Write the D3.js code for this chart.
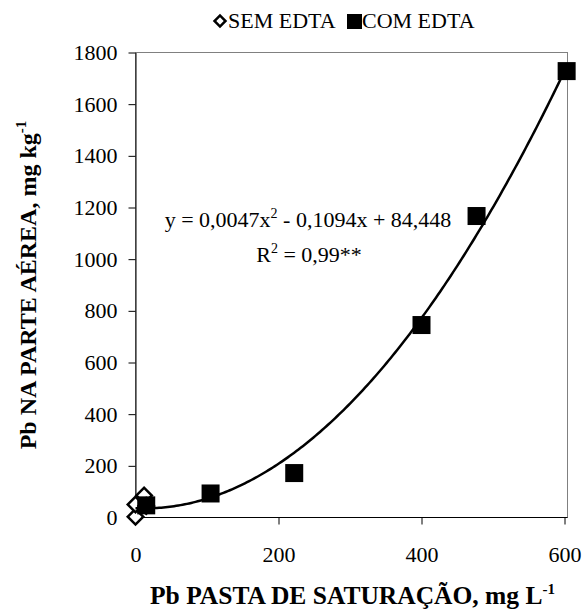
<!DOCTYPE html>
<html>
<head>
<meta charset="utf-8">
<script src="https://cdn.jsdelivr.net/npm/d3@7"></script>
<style>
  body { margin: 0; background: #fff; }
  svg text { font-family: "Liberation Serif", "Times New Roman", serif; fill: #000; }
</style>
</head>
<body>
<div id="chart"></div>
<script>
// values
var semEdtaX = [0, 0, 12, 15],
    semEdtaY = [3, 50, 85, 45];
var comEdtaX = [15, 105, 222, 400, 477, 603],
    comEdtaY = [47, 93, 172, 745, 1167, 1728];
// drawn trendline (quadratic)
var trendCoef = [0.0049, -0.12, 36];
var xTicks = [0, 200, 400, 600],
    yTicks = [0, 200, 400, 600, 800, 1000, 1200, 1400, 1600, 1800];

var serif = "'Liberation Serif', 'Times New Roman', serif";

var W = 583, H = 613,
    margin = {top: 52.5, right: 15.5, bottom: 95.5, left: 135.5},
    width = W - margin.left - margin.right,
    height = H - margin.top - margin.bottom;

var svg = d3.select("#chart").append("svg")
    .attr("width", W)
    .attr("height", H)
    .style("font-family", serif);

var g = svg.append("g")
    .attr("transform", "translate(" + margin.left + "," + margin.top + ")");

var x = d3.scaleLinear().domain([0, 600]).range([0, width - 3]);
var y = d3.scaleLinear().domain([0, 1800]).range([height, 0]);

// plot area border
g.append("rect")
    .attr("width", width).attr("height", height)
    .attr("fill", "none")
    .attr("stroke", "#808080")
    .attr("stroke-width", 1);

var xAxis = d3.axisBottom(x).tickValues(xTicks).tickFormat(d3.format("d"))
    .tickSizeInner(7).tickSizeOuter(0).tickPadding(22);
var yAxis = d3.axisLeft(y).tickValues(yTicks).tickFormat(d3.format("d"))
    .tickSizeInner(7).tickSizeOuter(0).tickPadding(11);

var gx = g.append("g").attr("transform", "translate(0," + height + ")").call(xAxis);
var gy = g.append("g").call(yAxis);
gx.select(".domain").attr("d", "M0,0H" + width);
[gx, gy].forEach(function(a) {
  a.attr("font-family", serif).attr("font-size", 22);
  a.selectAll("path, line").attr("stroke", "#000");
  a.selectAll("text")
      .style("font-family", serif)
      .style("font-size", "22px");
});

// trendline
var curve = d3.range(0, 603.5, 3).map(function(v) {
  return [v, trendCoef[0] * v * v + trendCoef[1] * v + trendCoef[2]];
});

// SEM EDTA diamonds
var diamond = d3.symbol().type(d3.symbolSquare).size(120);
g.selectAll(".sem")
    .data(semEdtaX.map(function(d, i) { return [d, semEdtaY[i]]; }))
  .enter().append("path")
    .attr("class", "sem")
    .attr("d", diamond)
    .attr("transform", function(d) { return "translate(" + x(d[0]) + "," + y(d[1]) + ") rotate(45)"; })
    .attr("fill", "#fff")
    .attr("stroke", "#000")
    .attr("stroke-width", 2.5);

// COM EDTA squares
g.selectAll(".com")
    .data(comEdtaX.map(function(d, i) { return [d, comEdtaY[i]]; }))
  .enter().append("rect")
    .attr("class", "com")
    .attr("x", function(d) { return x(d[0]) - 9; })
    .attr("y", function(d) { return y(d[1]) - 9; })
    .attr("width", 18).attr("height", 18)
    .attr("fill", "#000");

g.append("path")
    .datum(curve)
    .attr("fill", "none")
    .attr("stroke", "#000")
    .attr("stroke-width", 2.5)
    .attr("d", d3.line().x(function(d) { return x(d[0]); }).y(function(d) { return y(d[1]); }));

// equation
var eq = svg.append("text").attr("x", 308).attr("y", 227).attr("text-anchor", "middle").style("font-size", "22px");
eq.append("tspan").text("y = 0,0047x");
eq.append("tspan").attr("dy", -9).style("font-size", "14px").text("2");
eq.append("tspan").attr("dy", 9).text(" - 0,1094x + 84,448");
var r2 = svg.append("text").attr("x", 309).attr("y", 262).attr("text-anchor", "middle").style("font-size", "22px");
r2.append("tspan").text("R");
r2.append("tspan").attr("dy", -9).style("font-size", "14px").text("2");
r2.append("tspan").attr("dy", 9).text(" = 0,99**");

// legend
var leg = svg.append("g");
leg.append("path")
    .attr("d", d3.symbol().type(d3.symbolSquare).size(60))
    .attr("transform", "translate(220,21) rotate(45)")
    .attr("fill", "#fff").attr("stroke", "#000").attr("stroke-width", 2.5);
leg.append("text").attr("x", 228).attr("y", 28).style("font-size", "22px").text("SEM EDTA");
leg.append("rect").attr("x", 347).attr("y", 14).attr("width", 15).attr("height", 15).attr("fill", "#000");
leg.append("text").attr("x", 362).attr("y", 28).style("font-size", "22px").text("COM EDTA");

// axis titles
var xt = svg.append("text")
    .attr("x", margin.left + width / 2 + 1).attr("y", 604)
    .attr("text-anchor", "middle")
    .style("font-size", "25.5px").style("font-weight", "bold");
xt.append("tspan").text("Pb PASTA DE SATURAÇÃO, mg L");
xt.append("tspan").attr("dy", -10).style("font-size", "15px").text("-1");

var yt = svg.append("text")
    .attr("transform", "translate(36," + (margin.top + height / 2) + ") rotate(-90)")
    .attr("text-anchor", "middle")
    .style("font-size", "24px").style("font-weight", "bold");
yt.append("tspan").text("Pb NA PARTE AÉREA, mg kg");
yt.append("tspan").attr("dy", -10).style("font-size", "15px").text("-1");
</script>
</body>
</html>
